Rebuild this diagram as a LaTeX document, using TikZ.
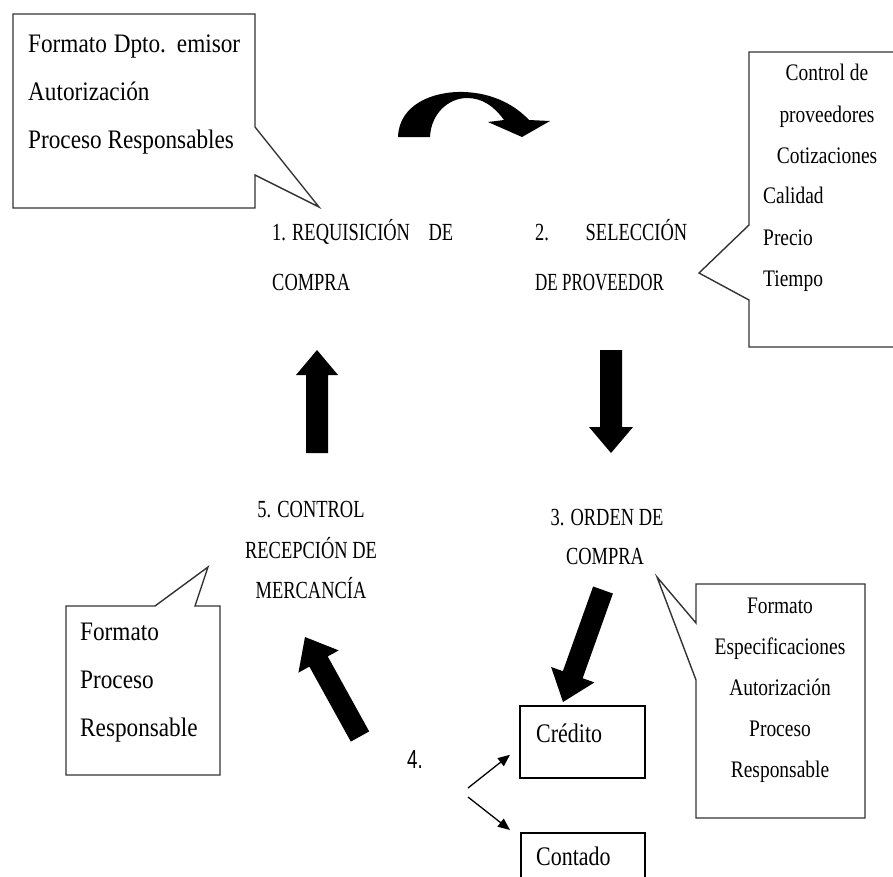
\documentclass[tikz,border=0pt]{standalone}
\usepackage{fontspec}
\usepackage{graphicx}
\setmainfont{Liberation Serif}
\newfontfamily\fbig[FakeStretch=0.87]{Liberation Serif}
\newfontfamily\fmid[FakeStretch=0.82]{Liberation Serif}
\newfontfamily\flab[FakeStretch=0.75]{Liberation Serif}
\newfontfamily\fsans[FakeStretch=0.72]{Liberation Sans}
\usetikzlibrary{calc,arrows.meta}

% filled block arrow: tail, tip, half shaft width, half head width, head length
\newcommand{\blockarrow}[5]{%
  \coordinate (hb) at ($(#2)!#5!(#1)$);
  \fill ($(#1)!#3!90:(#2)$) -- ($(hb)!#3!90:(#2)$) -- ($(hb)!#4!90:(#2)$)
    -- (#2) -- ($(hb)!#4!-90:(#2)$) -- ($(hb)!#3!-90:(#2)$)
    -- ($(#1)!#3!-90:(#2)$) -- cycle;}

\tikzset{
  callout/.style={draw=black!80, line width=1.4pt, line join=miter, fill=white},
  plainbox/.style={draw=black, line width=1.5pt},
  txt/.style={inner sep=0pt, anchor=base west},
  ctxt/.style={inner sep=0pt, anchor=base},
  bigtxt/.style={font=\fbig\fontsize{26.7}{30}\selectfont},
  midtxt/.style={font=\fmid\fontsize{23.7}{28}\selectfont},
  labtxt/.style={font=\flab\fontsize{24.6}{29}\selectfont},
  boxtxt/.style={font=\fmid\fontsize{26.8}{30}\selectfont},
  thinarrow/.style={line width=1.3pt, -{Triangle[length=12pt,width=10pt]}}
}

\begin{document}
\begin{tikzpicture}[x=1pt,y=-1pt]
\useasboundingbox (0,0) rectangle (893,876);

% callout: requisition
\draw[callout] (13,14) -- (255,14) -- (255,127) -- (319,207) -- (255,175)
  -- (255,208) -- (13,208) -- cycle;
\node[txt,bigtxt] (c1a) at (28,52) {\makebox[212pt][s]{Formato Dpto. emisor}};
\node[txt,bigtxt] (c1b) at (28,100) {Autorización};
\node[txt,bigtxt] (c1c) at (28,148) {Proceso Responsables};

% callout: supplier selection
\draw[callout] (749,52) -- (910,52) -- (910,347) -- (749,347) -- (749,300)
  -- (699,273) -- (749,225) -- cycle;
\node[ctxt,midtxt] (c2a) at (827,80) {Control de};
\node[ctxt,midtxt] (c2b) at (827,122) {proveedores};
\node[ctxt,midtxt] (c2c) at (827,163) {Cotizaciones};
\node[txt,midtxt] (c2d) at (763,203) {Calidad};
\node[txt,midtxt] (c2e) at (763,245) {Precio};
\node[txt,midtxt] (c2f) at (763,286) {Tiempo};

% callout: purchase order
\draw[callout] (696,584) -- (865,584) -- (865,818) -- (696,818) -- (696,680)
  -- (657,577) -- (696,623) -- cycle;
\node[ctxt,midtxt] (c3a) at (780,613) {Formato};
\node[ctxt,midtxt] (c3b) at (780,654) {Especificaciones};
\node[ctxt,midtxt] (c3c) at (780,695) {Autorización};
\node[ctxt,midtxt] (c3d) at (780,736) {Proceso};
\node[ctxt,midtxt] (c3e) at (780,777) {Responsable};

% callout: reception control
\draw[callout] (66,606) -- (155,606) -- (208,567) -- (195,606) -- (220,606)
  -- (220,775) -- (66,775) -- cycle;
\node[txt,bigtxt] (c5a) at (80,640) {Formato};
\node[txt,bigtxt] (c5b) at (80,688) {Proceso};
\node[txt,bigtxt] (c5c) at (80,736) {Responsable};

% stage labels
\node[txt,labtxt] (s1a) at (272,240) {\makebox[181pt][l]{1. REQUISICIÓN\hfill DE}};
\node[txt,labtxt] (s1b) at (272,290) {COMPRA};
\node[txt,labtxt] (s2a) at (535,240) {\makebox[152pt][l]{2.\hfill SELECCIÓN}};
\node[txt,labtxt] (s2b) at (535,290) {\scalebox{0.92}[1]{DE PROVEEDOR}};
\node[ctxt,labtxt] (s3a) at (607,525) {3. ORDEN DE};
\node[ctxt,labtxt] (s3b) at (605,564) {COMPRA};
\node[ctxt,labtxt] (s5a) at (311,517) {5. CONTROL};
\node[ctxt,labtxt] (s5b) at (311,558) {RECEPCIÓN DE};
\node[ctxt,labtxt] (s5c) at (311,598) {MERCANCÍA};
\node[txt,font=\fsans\fontsize{26}{30}\selectfont] (s4) at (407,768) {4.};

% payment boxes
\node[plainbox, anchor=north west, minimum width=125pt, minimum height=72pt,
  inner sep=0pt] (credito) at (519,705) {};
\node[txt,boxtxt] (creditoT) at (536,742) {Crédito};
\node[plainbox, anchor=north west, minimum width=124pt, minimum height=80pt,
  inner sep=0pt] (contado) at (520,832) {};
\node[txt,boxtxt] (contadoT) at (536,865) {Contado};

% curved arrow from stage 1 to stage 2
\fill (398,137) .. controls (399,105) and (432,91) .. (464,92)
  .. controls (494,93) and (516,106) .. (529,120) -- (550,121) -- (522,137)
  -- (488,122) -- (504,120) .. controls (494,106) and (482,98) .. (467,98)
  .. controls (449,98) and (431,113) .. (430,137) -- cycle;

% straight block arrows between stages
\coordinate (upTail) at (317,453);   \coordinate (upTip) at (317,350);
\coordinate (dnTail) at (611,350);   \coordinate (dnTip) at (611,453);
\coordinate (dlTail) at (603,590);   \coordinate (dlTip) at (563,702);
\coordinate (ulTail) at (360,736.5); \coordinate (ulTip) at (305,637);
\blockarrow{upTail}{upTip}{11pt}{21pt}{25pt}
\blockarrow{dnTail}{dnTip}{11pt}{22pt}{26pt}
\blockarrow{dlTail}{dlTip}{10.5pt}{23pt}{29pt}
\blockarrow{ulTail}{ulTip}{10.5pt}{23pt}{28pt}

% payment branches
\coordinate (br1) at (468,788); \coordinate (br2) at (468,797);
\coordinate (toCred) at ($(credito.west)+(-9,13)$);
\coordinate (toCont) at ($(contado.north west)+(-10,-2)$);
\draw[thinarrow] (br1) -- (toCred);
\draw[thinarrow] (br2) -- (toCont);
\end{tikzpicture}
\end{document}
